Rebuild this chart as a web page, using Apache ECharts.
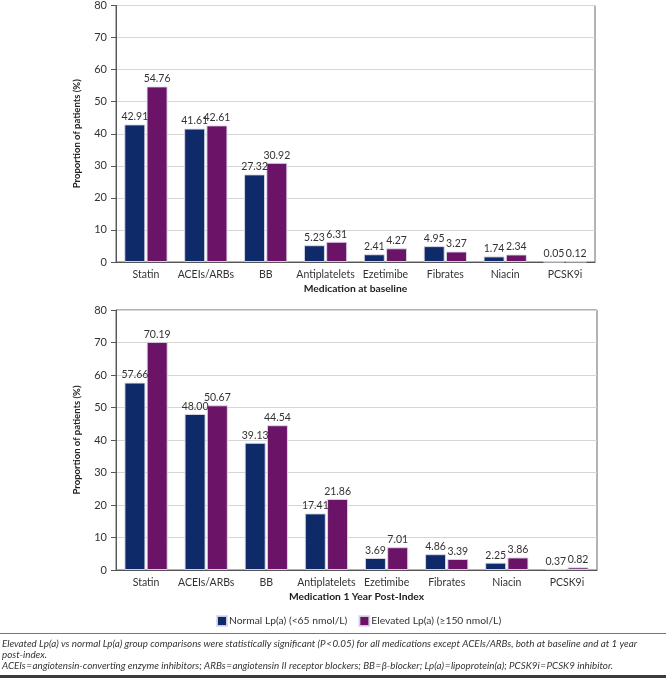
<!DOCTYPE html>
<html><head><meta charset="utf-8">
<script src="https://cdn.jsdelivr.net/npm/echarts@6/dist/echarts.min.js"></script>
<style>html,body{margin:0;padding:0;background:#fff}#c{width:666px;height:678px}</style>
</head><body><div id="c"></div>
<script>
const categories = ['Statin','ACEIs/ARBs','BB','Antiplatelets','Ezetimibe','Fibrates','Niacin','PCSK9i'];
const baselineNormal = [42.91,41.61,27.32,5.23,2.41,4.95,1.74,0.05];
const baselineElevated = [54.76,42.61,30.92,6.31,4.27,3.27,2.34,0.12];
const yearNormal = [57.66,48.00,39.13,17.41,3.69,4.86,2.25,0.37];
const yearElevated = [70.19,50.67,44.54,21.86,7.01,3.39,3.86,0.82];
const seriesNames = ['Normal Lp(a) (<65 nmol/L)','Elevated Lp(a) (\u2265150 nmol/L)'];
const xTitles = ['Medication at baseline','Medication 1 Year Post-Index'];
const yTitle = 'Proportion of patients (%)';
const yTicks = [0,10,20,30,40,50,60,70,80];

const FONT = 'Lato';
const BLUE = '#0f2a69', PURPLE = '#6b1367';
const chart = echarts.init(document.getElementById('c'), null, {renderer:'canvas'});

function xAxis(i){
  return {type:'category', gridIndex:i, data:categories,
    axisLine:{lineStyle:{color:'#555',width:1}}, axisTick:{show:false},
    axisLabel:{color:'#333', fontFamily:FONT, fontSize:10.5, margin:7, interval:0},
    name:xTitles[i], nameLocation:'middle', nameGap:22,
    nameTextStyle:{color:'#222', fontFamily:FONT, fontSize:10.3, fontWeight:'bold'}};
}
function yAxis(i){
  return {type:'value', gridIndex:i, min:yTicks[0], max:yTicks[yTicks.length-1], interval:10,
    axisLine:{show:true, lineStyle:{color:'#555',width:1}},
    axisTick:{show:true, length:5, lineStyle:{color:'#555'}},
    axisLabel:{color:'#333', fontFamily:FONT, fontSize:11, margin:9},
    splitLine:{lineStyle:{color:'#d6d6d6', width:1}},
    name:yTitle, nameLocation:'middle', nameGap:34, nameRotate:90,
    nameTextStyle:{color:'#222', fontFamily:FONT, fontSize:9.5, fontWeight:'bold'}};
}
function bar(name, data, i, color){
  return {type:'bar', name:name, xAxisIndex:i, yAxisIndex:i, data:data,
    barWidth:21, barGap:'6%',
    itemStyle:{color:color, borderColor:'rgba(220,220,235,0.9)', borderWidth:1},
    label:{show:true, position:'top', distance:2, color:'#333', fontFamily:FONT, fontSize:10.5,
      formatter:p=>p.value.toFixed(2)}};
}

chart.setOption({
  animation:false,
  textStyle:{fontFamily:FONT},
  grid:[
    {left:116, top:3, width:479, height:259, show:true, borderColor:'#666', borderWidth:1, containLabel:false},
    {left:116, top:310, width:481, height:260, show:true, borderColor:'#666', borderWidth:1, containLabel:false}
  ],
  xAxis:[xAxis(0), xAxis(1)],
  yAxis:[yAxis(0), yAxis(1)],
  legend:{top:610, left:211, itemWidth:10, itemHeight:10, itemGap:11, icon:'rect',
    data:seriesNames, textStyle:{color:'#333', fontFamily:FONT, fontSize:10.3, padding:[0,0,0,-3]}},
  series:[
    bar(seriesNames[0], baselineNormal, 0, BLUE),
    bar(seriesNames[1], baselineElevated, 0, PURPLE),
    bar(seriesNames[0], yearNormal, 1, BLUE),
    bar(seriesNames[1], yearElevated, 1, PURPLE)
  ],
  graphic:[
    {type:'line', shape:{x1:0,y1:633.5,x2:666,y2:633.5}, style:{stroke:'#777', lineWidth:1}},
    {type:'text', left:2, top:638, style:{text:'Elevated Lp(a) vs normal Lp(a) group comparisons were statistically significant (P\u200a<\u200a0.05) for all medications except ACEIs/ARBs, both at baseline and at 1 year\npost-index.', fill:'#333', font:'italic 9.8px Lato', lineHeight:11.5}},
    {type:'text', left:2, top:661, style:{text:'ACEIs\u200a=\u200aangiotensin-converting enzyme inhibitors; ARBs\u200a=\u200aangiotensin II receptor blockers; BB\u200a=\u200a\u03b2-blocker; Lp(a)\u200a=\u200alipoprotein(a); PCSK9i\u200a=\u200aPCSK9 inhibitor.', fill:'#333', font:'italic 9.8px Lato'}},
    {type:'rect', shape:{x:0,y:675,width:666,height:3}, style:{fill:'#3a3a40'}}
  ]
});
</script></body></html>
